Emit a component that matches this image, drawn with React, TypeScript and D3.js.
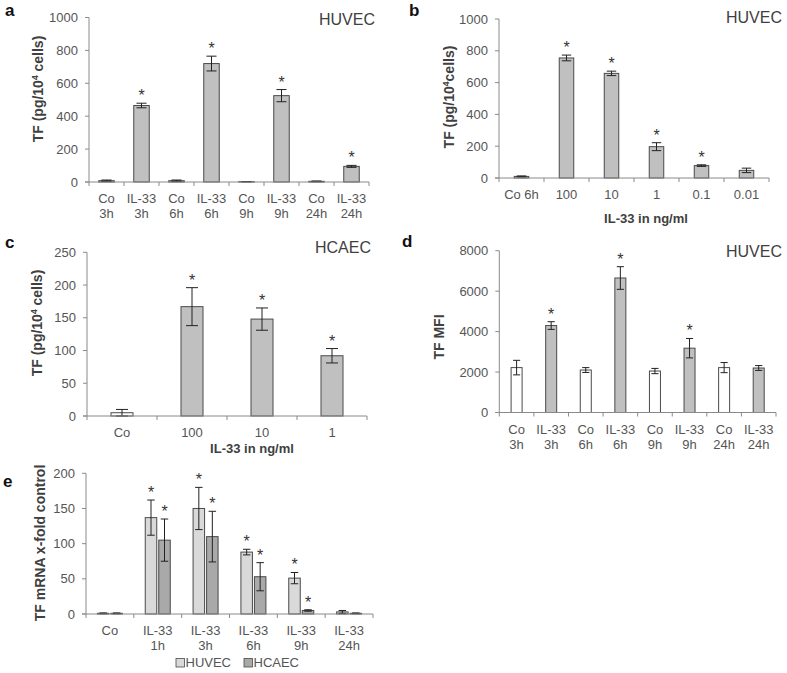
import React from "react";
import * as d3 from "d3";

// ---------- DATA ----------
const aCategories = [["Co", "3h"], ["IL-33", "3h"], ["Co", "6h"], ["IL-33", "6h"], ["Co", "9h"], ["IL-33", "9h"], ["Co", "24h"], ["IL-33", "24h"]];
const aValues = [8, 465, 8, 720, 2, 525, 4, 95];
const aErrors = [4, 14, 4, 45, 1, 37, 2, 6];
const aStars = [false, true, false, true, false, true, false, true];
const aTicks = [0, 200, 400, 600, 800, 1000];

const bCategories = [["Co 6h"], ["100"], ["10"], ["1"], ["0.1"], ["0.01"]];
const bValues = [10, 755, 658, 197, 78, 48];
const bErrors = [3, 18, 14, 25, 5, 14];
const bStars = [false, true, true, true, true, false];
const bTicks = [0, 200, 400, 600, 800, 1000];

const cCategories = [["Co"], ["100"], ["10"], ["1"]];
const cValues = [5, 167, 148, 92];
const cErrors = [5, 29, 17, 11];
const cStars = [false, true, true, true];
const cWhite = [true, false, false, false];
const cTicks = [0, 50, 100, 150, 200, 250];

const dCategories = [["Co", "3h"], ["IL-33", "3h"], ["Co", "6h"], ["IL-33", "6h"], ["Co", "9h"], ["IL-33", "9h"], ["Co", "24h"], ["IL-33", "24h"]];
const dValues = [2220, 4300, 2100, 6650, 2050, 3180, 2220, 2200];
const dErrors = [360, 190, 120, 560, 130, 480, 250, 120];
const dStars = [false, true, false, true, false, true, false, false];
const dWhite = [true, false, true, false, true, false, true, false];
const dTicks = [0, 2000, 4000, 6000, 8000];

const eCategories = [["Co"], ["IL-33", "1h"], ["IL-33", "3h"], ["IL-33", "6h"], ["IL-33", "9h"], ["IL-33", "24h"]];
const eSeriesNames = ["HUVEC", "HCAEC"];
const eHuvec = [1, 137, 150, 88, 51, 3];
const eHuvecErr = [0.5, 25, 30, 4, 8, 2];
const eHuvecStars = [false, true, true, true, true, false];
const eHcaec = [1, 105, 110, 53, 5, 1];
const eHcaecErr = [0.5, 30, 36, 20, 1, 0.5];
const eHcaecStars = [false, true, true, true, true, false];
const eTicks = [0, 50, 100, 150, 200];

// ---------- STYLE ----------
const FONT = "'Liberation Sans', Arial, Helvetica, sans-serif";
const AXIS = "#8a8a8a";
const TXT = "#555555";
const TITLE = "#404040";
const BAR = "#c0c0c0";
const BAR_STROKE = "#4a4a4a";
const HUVEC_FILL = "#d9d9d9";
const HCAEC_FILL = "#a9a9a9";

type Series = { values: number[]; errors: number[]; stars: boolean[]; fills: string[] };

type PanelProps = {
  left: number; right: number; top: number; bottom: number;
  max: number; ticks: number[];
  categories: string[][];
  series: Series[];
  barW: number; gap?: number;
};

function Panel(p: PanelProps) {
  const x = d3.scaleBand<number>().domain(d3.range(p.categories.length)).range([p.left, p.right]).padding(0);
  const y = d3.scaleLinear().domain([0, p.max]).range([p.bottom, p.top]);
  const n = p.series.length;
  const gap = p.gap ?? 0;
  const groupW = n * p.barW + (n - 1) * gap;
  const cap = Math.min(12, p.barW * 0.65);
  const boundaries = d3.range(p.categories.length + 1).map((i) => p.left + i * x.bandwidth());
  return (
    <g>
      {p.series.map((s, si) =>
        s.values.map((v, i) => {
          const cx = (x(i) as number) + x.bandwidth() / 2 - groupW / 2 + si * (p.barW + gap) + p.barW / 2;
          const yv = y(v);
          const yt = y(v + s.errors[i]);
          const yb = y(Math.max(0, v - s.errors[i]));
          return (
            <g key={`${si}-${i}`}>
              <rect x={cx - p.barW / 2} y={yv} width={p.barW} height={p.bottom - yv} fill={s.fills[i]} stroke={BAR_STROKE} strokeWidth={1} />
              <line x1={cx} x2={cx} y1={yt} y2={yb} stroke="#222" strokeWidth={1} />
              <line x1={cx - cap / 2} x2={cx + cap / 2} y1={yt} y2={yt} stroke="#222" strokeWidth={1} />
              <line x1={cx - cap / 2} x2={cx + cap / 2} y1={yb} y2={yb} stroke="#222" strokeWidth={1} />
              {s.stars[i] && (
                <text x={cx} y={yt - 2} textAnchor="middle" fontSize={16} fill="#333" fontFamily={FONT}>*</text>
              )}
            </g>
          );
        })
      )}
      <line x1={p.left} x2={p.left} y1={p.top} y2={p.bottom} stroke={AXIS} strokeWidth={1} />
      {p.ticks.map((t) => (
        <g key={t}>
          <line x1={p.left - 4} x2={p.left} y1={y(t)} y2={y(t)} stroke={AXIS} />
          <text x={p.left - 11} y={y(t) + 4.5} textAnchor="end" fontSize={13} fill={TXT} fontFamily={FONT}>{t}</text>
        </g>
      ))}
      <line x1={p.left - 4} x2={p.right} y1={p.bottom} y2={p.bottom} stroke={AXIS} strokeWidth={1} />
      {boundaries.map((b, i) => (
        <line key={i} x1={b} x2={b} y1={p.bottom} y2={p.bottom + 4} stroke={AXIS} />
      ))}
      {p.categories.map((lines, i) => (
        <text key={i} x={(x(i) as number) + x.bandwidth() / 2} y={p.bottom + 21} textAnchor="middle" fontSize={13} fill={TXT} fontFamily={FONT}>
          {lines.map((l, j) => (
            <tspan key={j} x={(x(i) as number) + x.bandwidth() / 2} dy={j === 0 ? 0 : 15}>{l}</tspan>
          ))}
        </text>
      ))}
    </g>
  );
}

function YLabel({ x, y, children, size = 14 }: { x: number; y: number; children: React.ReactNode; size?: number }) {
  return (
    <text transform={`translate(${x},${y}) rotate(-90)`} textAnchor="middle" fontSize={size} fontWeight="bold" fill={TITLE} fontFamily={FONT}>
      {children}
    </text>
  );
}

function TFLabel({ x, y, space = true }: { x: number; y: number; space?: boolean }) {
  return (
    <YLabel x={x} y={y}>
      TF (pg/10<tspan fontSize={8.5} dy={-5}>4</tspan><tspan dy={5}>{space ? " cells)" : "cells)"}</tspan>
    </YLabel>
  );
}

function Letter({ x, y, t }: { x: number; y: number; t: string }) {
  return <text x={x} y={y} fontSize={17} fontWeight="bold" fill="#111" fontFamily={FONT}>{t}</text>;
}

function Tag({ x, y, t }: { x: number; y: number; t: string }) {
  return <text x={x} y={y} textAnchor="middle" fontSize={16} fill={TITLE} fontFamily={FONT}>{t}</text>;
}

function XTitle({ x, y, t }: { x: number; y: number; t: string }) {
  return <text x={x} y={y} textAnchor="middle" fontSize={13} fontWeight="bold" fill={TITLE} fontFamily={FONT}>{t}</text>;
}

export default function App() {
  const fillAll = (n: number, c: string) => d3.range(n).map(() => c);
  return (
    <svg width={787} height={673} style={{ position: "absolute", left: 0, top: 0, background: "#fff" }}>
      <rect width={787} height={673} fill="#fff" />
      {/* a */}
      <Letter x={5} y={16} t="a" />
      <Tag x={347} y={25} t="HUVEC" />
      <TFLabel x={43} y={89} />
      <Panel left={89} right={369} top={17.5} bottom={182} max={1000} ticks={aTicks} categories={aCategories} barW={15.5}
        series={[{ values: aValues, errors: aErrors, stars: aStars, fills: fillAll(aValues.length, BAR) }]} />

      {/* b */}
      <Letter x={409} y={16} t="b" />
      <Tag x={754} y={23} t="HUVEC" />
      <TFLabel x={454} y={97} space={false} />
      <Panel left={499} right={769} top={19} bottom={178} max={1000} ticks={bTicks} categories={bCategories} barW={14.5}
        series={[{ values: bValues, errors: bErrors, stars: bStars, fills: fillAll(bValues.length, BAR) }]} />
      <XTitle x={646} y={223} t="IL-33 in ng/ml" />

      {/* c */}
      <Letter x={5} y={248} t="c" />
      <Tag x={343} y={253} t="HCAEC" />
      <TFLabel x={42} y={323} />
      <Panel left={87} right={367} top={252.3} bottom={416} max={250} ticks={cTicks} categories={cCategories} barW={22}
        series={[{ values: cValues, errors: cErrors, stars: cStars, fills: cWhite.map((w) => (w ? "#fff" : BAR)) }]} />
      <XTitle x={252} y={453} t="IL-33 in ng/ml" />

      {/* d */}
      <Letter x={402} y={247} t="d" />
      <Tag x={754} y={257} t="HUVEC" />
      <YLabel x={444} y={337}>TF MFI</YLabel>
      <Panel left={499.3} right={776} top={250.7} bottom={412.5} max={8000} ticks={dTicks} categories={dCategories} barW={11}
        series={[{ values: dValues, errors: dErrors, stars: dStars, fills: dWhite.map((w) => (w ? "#fff" : BAR)) }]} />

      {/* e */}
      <Letter x={3} y={487} t="e" />
      <YLabel x={45} y={543}>TF mRNA x-fold control</YLabel>
      <Panel left={86} right={373} top={473.3} bottom={614} max={200} ticks={eTicks} categories={eCategories} barW={11.5} gap={2}
        series={[
          { values: eHuvec, errors: eHuvecErr, stars: eHuvecStars, fills: fillAll(eHuvec.length, HUVEC_FILL) },
          { values: eHcaec, errors: eHcaecErr, stars: eHcaecStars, fills: fillAll(eHcaec.length, HCAEC_FILL) },
        ]} />
      {eSeriesNames.map((name, i) => {
        const lx = [176, 244][i];
        return (
          <g key={name}>
            <rect x={lx} y={658.5} width={8.5} height={8.5} fill={i === 0 ? HUVEC_FILL : HCAEC_FILL} stroke={BAR_STROKE} strokeWidth={0.8} />
            <text x={lx + 9.5} y={667} fontSize={13} fill={TXT} fontFamily={FONT}>{name}</text>
          </g>
        );
      })}
    </svg>
  );
}
